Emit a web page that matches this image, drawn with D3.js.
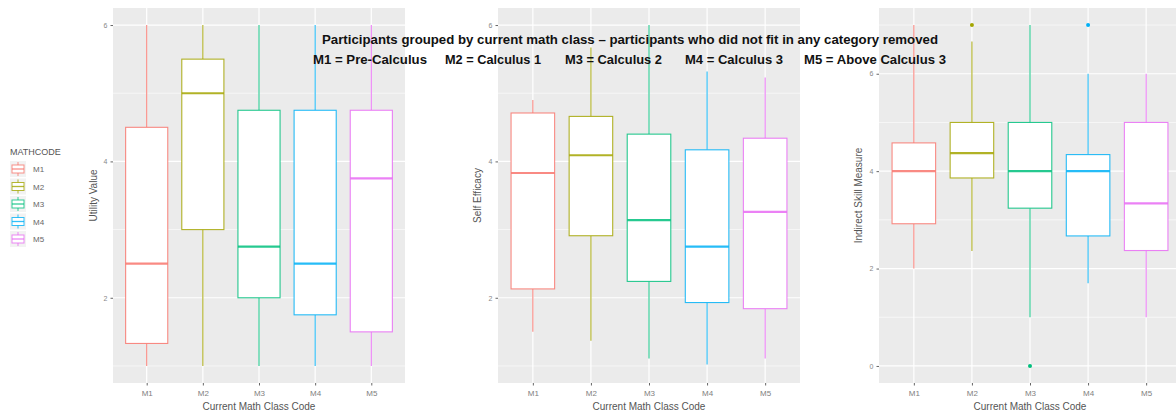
<!DOCTYPE html>
<html>
<head>
<meta charset="utf-8">
<script src="https://cdn.jsdelivr.net/npm/d3@7"></script>
<style>
  html, body { margin: 0; padding: 0; background: #fff; }
  svg { display: block; }
  text { font-family: "Liberation Sans", Arial, sans-serif; }
</style>
</head>
<body>
<svg id="chart" width="1176" height="416"></svg>
<script>
// ---------------- DATA ----------------
const categories = ["M1", "M2", "M3", "M4", "M5"];
const seriesColors = ["#F8766D", "#A3A500", "#00BF7D", "#00B0F6", "#E76BF3"];

// Panel 1: Utility Value
const utilityLow  = [1.0, 1.0, 1.0, 1.0, 1.0];
const utilityQ1   = [1.33, 3.0, 2.0, 1.75, 1.5];
const utilityMed  = [2.5, 5.0, 2.75, 2.5, 3.75];
const utilityQ3   = [4.5, 5.5, 4.75, 4.75, 4.75];
const utilityHigh = [6.0, 6.0, 6.0, 6.0, 6.0];
const utilityOut  = [[], [], [], [], []];

// Panel 2: Self Efficacy
const efficacyLow  = [1.5, 1.37, 1.11, 1.02, 1.11];
const efficacyQ1   = [2.13, 2.91, 2.24, 1.93, 1.84];
const efficacyMed  = [3.83, 4.09, 3.14, 2.75, 3.26];
const efficacyQ3   = [4.71, 4.66, 4.4, 4.17, 4.34];
const efficacyHigh = [4.9, 5.67, 6.0, 5.32, 5.23];
const efficacyOut  = [[], [], [], [], []];

// Panel 3: Indirect Skill Measure
const skillLow  = [2.0, 2.36, 1.0, 1.7, 1.0];
const skillQ1   = [2.92, 3.86, 3.24, 2.67, 2.37];
const skillMed  = [4.0, 4.37, 4.0, 4.0, 3.34];
const skillQ3   = [4.58, 5.0, 5.0, 4.34, 5.0];
const skillHigh = [7.0, 6.66, 7.0, 6.0, 6.0];
const skillOut  = [[], [7], [0], [7], []];

const yTicks1 = [2, 4, 6];
const yTicks2 = [2, 4, 6];
const yTicks3 = [0, 2, 4, 6];

const yTitles = ["Utility Value", "Self Efficacy", "Indirect Skill Measure"];
const xTitle = "Current Math Class Code";
const legendTitle = "MATHCODE";
const titleLine1 = "Participants grouped by current math class \u2013 participants who did not fit in any category removed";
const titleLine2 = ["M1 = Pre-Calculus", "M2 = Calculus 1", "M3 = Calculus 2", "M4 = Calculus 3", "M5 = Above Calculus 3"];

// ---------------- LAYOUT ----------------
const panelTop = 8, panelBottom = 383;
const panels = [
  { x0: 113, x1: 405, domain: [0.75, 6.25], ticks: yTicks1, minor: [1, 3, 5],
    low: utilityLow, q1: utilityQ1, med: utilityMed, q3: utilityQ3, high: utilityHigh, out: utilityOut,
    title: yTitles[0], titleX: 97 },
  { x0: 498, x1: 800, domain: [0.75, 6.25], ticks: yTicks2, minor: [1, 3, 5],
    low: efficacyLow, q1: efficacyQ1, med: efficacyMed, q3: efficacyQ3, high: efficacyHigh, out: efficacyOut,
    title: yTitles[1], titleX: 481 },
  { x0: 879, x1: 1181, domain: [-0.35, 7.35], ticks: yTicks3, minor: [1, 3, 5, 7],
    low: skillLow, q1: skillQ1, med: skillMed, q3: skillQ3, high: skillHigh, out: skillOut,
    title: yTitles[2], titleX: 862 }
];

const svg = d3.select("#chart");

panels.forEach(p => {
  const x = d3.scalePoint().domain(categories).range([p.x0, p.x1]).padding(0.6);
  const y = d3.scaleLinear().domain(p.domain).range([panelBottom, panelTop]);
  const bw = x.step() * 0.75;
  const g = svg.append("g");

  g.append("rect").attr("x", p.x0).attr("y", panelTop)
    .attr("width", p.x1 - p.x0).attr("height", panelBottom - panelTop)
    .attr("fill", "#EBEBEB");

  g.selectAll(".minor").data(p.minor).enter().append("line")
    .attr("x1", p.x0).attr("x2", p.x1)
    .attr("y1", d => y(d)).attr("y2", d => y(d))
    .attr("stroke", "#fff").attr("stroke-width", 0.6);
  g.selectAll(".major").data(p.ticks).enter().append("line")
    .attr("x1", p.x0).attr("x2", p.x1)
    .attr("y1", d => y(d)).attr("y2", d => y(d))
    .attr("stroke", "#fff").attr("stroke-width", 1.2);
  g.selectAll(".vgrid").data(categories).enter().append("line")
    .attr("x1", d => x(d)).attr("x2", d => x(d))
    .attr("y1", panelTop).attr("y2", panelBottom)
    .attr("stroke", "#fff").attr("stroke-width", 1.2);

  const ya = g.append("g").attr("transform", `translate(${p.x0},0)`)
    .call(d3.axisLeft(y).tickValues(p.ticks).tickFormat(d3.format("d")).tickSize(2.5).tickPadding(3));
  ya.select(".domain").remove();
  ya.selectAll(".tick line").attr("stroke", "#666");
  ya.selectAll(".tick text").attr("fill", "#888").attr("font-size", 7);

  const xa = g.append("g").attr("transform", `translate(0,${panelBottom})`)
    .call(d3.axisBottom(x).tickSize(2.5).tickPadding(5));
  xa.select(".domain").remove();
  xa.selectAll(".tick line").attr("stroke", "#666");
  xa.selectAll(".tick text").attr("fill", "#808080").attr("font-size", 8);

  g.append("text").attr("x", (p.x0 + p.x1) / 2).attr("y", 410)
    .attr("text-anchor", "middle").attr("font-size", 10).attr("fill", "#555")
    .text(xTitle);
  g.append("text").attr("transform", `translate(${p.titleX},${(panelTop + panelBottom) / 2}) rotate(-90)`)
    .attr("text-anchor", "middle").attr("font-size", 10).attr("fill", "#555")
    .text(p.title);

  categories.forEach((c, i) => {
    const col = seriesColors[i];
    const cx = x(c);
    g.append("line").attr("x1", cx).attr("x2", cx)
      .attr("y1", y(p.q3[i])).attr("y2", y(p.high[i]))
      .attr("stroke", col).attr("stroke-width", 1.1).attr("stroke-opacity", 0.85);
    g.append("line").attr("x1", cx).attr("x2", cx)
      .attr("y1", y(p.q1[i])).attr("y2", y(p.low[i]))
      .attr("stroke", col).attr("stroke-width", 1.1).attr("stroke-opacity", 0.85);
    g.append("rect").attr("x", cx - bw / 2).attr("width", bw)
      .attr("y", y(p.q3[i])).attr("height", y(p.q1[i]) - y(p.q3[i]))
      .attr("fill", "#fff").attr("stroke", col).attr("stroke-width", 1.1).attr("stroke-opacity", 0.85);
    g.append("line").attr("x1", cx - bw / 2).attr("x2", cx + bw / 2)
      .attr("y1", y(p.med[i])).attr("y2", y(p.med[i]))
      .attr("stroke", col).attr("stroke-width", 2.2).attr("stroke-opacity", 0.85);
    g.selectAll(null).data(p.out[i]).enter().append("circle")
      .attr("cx", cx).attr("cy", d => y(d)).attr("r", 2)
      .attr("fill", col);
  });
});

// legend
const lg = svg.append("g");
lg.append("text").attr("x", 10).attr("y", 155).attr("font-size", 9).attr("fill", "#555").text(legendTitle);
categories.forEach((c, i) => {
  const ky = 161 + i * 17.5;
  lg.append("rect").attr("x", 10).attr("y", ky).attr("width", 16).attr("height", 16).attr("fill", "#F2F2F2");
  lg.append("line").attr("x1", 18).attr("x2", 18).attr("y1", ky + 1).attr("y2", ky + 15)
    .attr("stroke", seriesColors[i]).attr("stroke-width", 1).attr("stroke-opacity", 0.8);
  lg.append("rect").attr("x", 12).attr("y", ky + 4).attr("width", 12).attr("height", 8)
    .attr("fill", "#fff").attr("stroke", seriesColors[i]).attr("stroke-width", 1).attr("stroke-opacity", 0.8);
  lg.append("line").attr("x1", 12).attr("x2", 24).attr("y1", ky + 8).attr("y2", ky + 8)
    .attr("stroke", seriesColors[i]).attr("stroke-width", 1.3).attr("stroke-opacity", 0.8);
  lg.append("text").attr("x", 33).attr("y", ky + 11).attr("font-size", 8).attr("fill", "#666").text(c);
});

// title
const tfont = "Open Sans, Noto Sans, sans-serif";
svg.append("text").attr("x", 322).attr("y", 44)
  .attr("font-family", tfont).attr("font-weight", "bold").attr("font-size", 13)
  .attr("fill", "#111").attr("textLength", 616).attr("lengthAdjust", "spacingAndGlyphs")
  .text(titleLine1);
const line2Starts = [313, 445, 565, 685, 804];
const line2Lengths = [114, 96, 97, 98, 142];
titleLine2.forEach((t, i) => {
  svg.append("text").attr("x", line2Starts[i]).attr("y", 64)
    .attr("font-family", tfont).attr("font-weight", "bold").attr("font-size", 13)
    .attr("fill", "#111").attr("textLength", line2Lengths[i]).attr("lengthAdjust", "spacingAndGlyphs")
    .text(t);
});
</script>
</body>
</html>
